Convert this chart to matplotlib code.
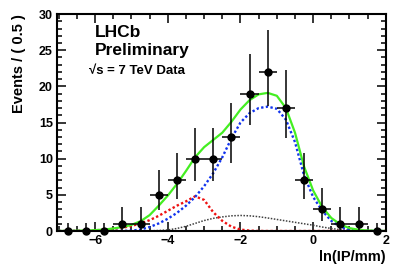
import numpy as np
import matplotlib
matplotlib.use('Agg')
import matplotlib.pyplot as plt
from matplotlib.ticker import MultipleLocator

plt.rcParams['font.family'] = ['Liberation Sans', 'DejaVu Sans']
plt.rcParams['font.weight'] = 'bold'

# binned data, ln(IP/mm), bin width 0.5
bin_centers = [-6.75, -6.25, -5.75, -5.25, -4.75, -4.25, -3.75, -3.25, -2.75,
               -2.25, -1.75, -1.25, -0.75, -0.25, 0.25, 0.75, 1.25, 1.75]
counts = [0, 0, 0, 1, 1, 5, 7, 10, 10, 13, 19, 22, 17, 7, 3, 1, 1, 0]
err_lo = [0, 0, 0, 0.83, 0.83, 2.16, 2.58, 3.11, 3.11, 3.57, 4.33, 4.66, 4.08,
          2.58, 1.63, 0.83, 0.83, 0]
err_hi = [1.15, 1.15, 1.15, 2.30, 2.30, 3.38, 3.77, 4.27, 4.27, 4.69, 5.44,
          5.77, 5.21, 3.77, 2.92, 2.30, 2.30, 1.15]

# fit curves sampled every 0.25 from -7 to 2
curve_x = np.arange(-7.0, 2.001, 0.25)
total = [0.01, 0.02, 0.04, 0.07, 0.12, 0.2, 0.35, 0.55, 0.85, 1.35, 2.2, 3.5,
         4.9, 6.5, 8.3, 10.2, 11.6, 12.6, 13.6, 15.1, 16.8, 18.1, 18.9, 19.1,
         18.7, 17.0, 13.6, 8.9, 5.6, 3.3, 1.8, 0.9, 0.4, 0.17, 0.07, 0.03, 0.01]
signal = [0, 0, 0, 0, 0, 0, 0.01, 0.02, 0.05, 0.2, 0.55, 1.05, 1.7, 2.5, 3.5,
          4.7, 6.2, 8.0, 10.2, 12.8, 15.0, 16.3, 17.0, 17.2, 16.9, 15.4, 12.3,
          7.7, 4.7, 2.8, 1.4, 0.55, 0.18, 0.05, 0.01, 0, 0]
prompt = [0, 0.01, 0.02, 0.05, 0.1, 0.18, 0.3, 0.45, 0.7, 1.05, 1.5, 2.1, 2.8,
          3.5, 4.1, 4.8, 4.3, 2.6, 1.4, 0.6, 0.2, 0.05, 0.01, 0, 0, 0, 0, 0, 0,
          0, 0, 0, 0, 0, 0, 0, 0]
combinatorial = [0, 0, 0, 0, 0, 0, 0, 0, 0, 0.01, 0.03, 0.07, 0.15, 0.35, 0.65,
                 1.05, 1.45, 1.75, 1.95, 2.1, 2.15, 2.1, 1.98, 1.8, 1.6, 1.4,
                 1.2, 1.0, 0.8, 0.55, 0.35, 0.18, 0.08, 0.03, 0.01, 0, 0]

fig = plt.figure(figsize=(4.07, 2.76), dpi=100)
ax = fig.add_axes([0.140, 0.163, 0.808, 0.786])

dots = (0, (1, 1))
ax.plot(curve_x, combinatorial, color='0.25', lw=1.1, ls=dots)
ax.plot(curve_x, prompt, color='#ee1111', lw=1.7, ls=dots)
ax.plot(curve_x, signal, color='#1133ee', lw=1.7, ls=dots)
ax.plot(curve_x, total, color='#44ee22', lw=1.6)

ax.errorbar(bin_centers, counts, xerr=0.25, yerr=[err_lo, err_hi], fmt='o',
            color='black', ms=5, elinewidth=1.1, capsize=0, clip_on=False,
            zorder=5)

ax.set_xlim(-7.05, 2)
ax.set_ylim(0, 30)
ax.xaxis.set_major_locator(MultipleLocator(2))
ax.xaxis.set_minor_locator(MultipleLocator(0.5))
ax.yaxis.set_major_locator(MultipleLocator(5))
ax.yaxis.set_minor_locator(MultipleLocator(1))
ax.tick_params(which='both', direction='in', top=True, right=True, width=1.1,
               labelsize=9, pad=3)
ax.tick_params(which='major', length=6.5)
ax.tick_params(which='minor', length=3.5)
for s in ax.spines.values():
    s.set_linewidth(1.5)

ax.set_xlabel('ln(IP/mm)', fontsize=10.5, fontweight='bold', loc='right',
              labelpad=2)
ax.set_ylabel('Events / ( 0.5 )', fontsize=10.5, fontweight='bold', loc='top',
              labelpad=9)

fig.text(95 / 407, 1 - 37 / 276, 'LHCb', fontsize=12.5, fontweight='bold',
         va='baseline')
fig.text(95 / 407, 1 - 55 / 276, 'Preliminary', fontsize=12.5,
         fontweight='bold', va='baseline')
fig.text(89 / 407, 1 - 74 / 276, '√s = 7 TeV Data', fontsize=9.5,
         fontweight='bold', va='baseline')

fig.savefig('out.png', dpi=100)
plt.close(fig)
